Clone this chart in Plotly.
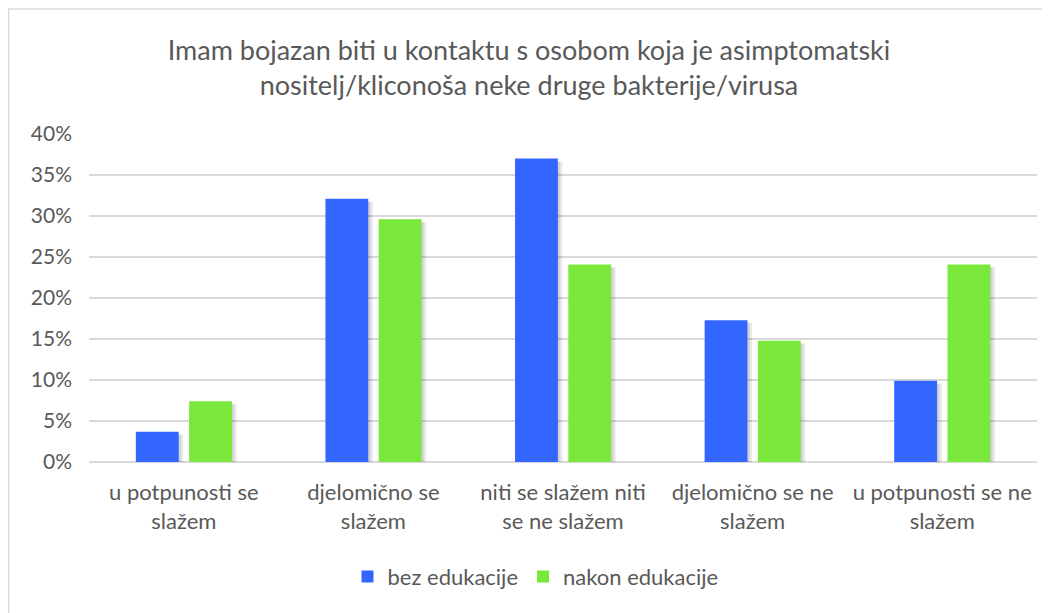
import plotly.graph_objects as go

categories = [
    "u potpunosti se<br>slažem",
    "djelomično se<br>slažem",
    "niti se slažem niti<br>se ne slažem",
    "djelomično se ne<br>slažem",
    "u potpunosti se ne<br>slažem",
]
bez_edukacije = [3.7, 32.1, 37.0, 17.3, 9.9]
nakon_edukacije = [7.4, 29.6, 24.1, 14.8, 24.1]
series_names = ["bez edukacije", "nakon edukacije"]
title_text = ("Imam bojazan biti u kontaktu s osobom koja je asimptomatski<br>"
              "nositelj/kliconoša neke druge bakterije/virusa")

FONT = "Lato"
GREY = "#595959"
COLORS = ["#3366FF", "#7AE83A"]
BAR_W = 0.226
OFFSETS = [-0.253, 0.028]
SHADOW_DX = [0.012, 0.024]

fig = go.Figure()
# soft drop shadows
for vals, off in zip([bez_edukacije, nakon_edukacije], OFFSETS):
    for dx in SHADOW_DX:
        fig.add_trace(go.Bar(x=categories, y=vals, base=-0.35, width=BAR_W, offset=off + dx,
                             marker=dict(color="rgba(0,0,0,0.09)", line=dict(width=0)),
                             showlegend=False, hoverinfo="skip", cliponaxis=False))
for vals, name, col, off in zip([bez_edukacije, nakon_edukacije], series_names, COLORS, OFFSETS):
    fig.add_trace(go.Bar(x=categories, y=vals, name=name, width=BAR_W, offset=off,
                         marker=dict(color=col, line=dict(width=0))))

fig.update_layout(
    width=1042, height=605,
    margin=dict(l=81, r=13, t=126, b=151),
    paper_bgcolor="white", plot_bgcolor="white",
    barmode="overlay",
    font=dict(family=FONT, color=GREY, size=22),
    title=dict(text=title_text, x=0.5, xanchor="center", y=0.914, yanchor="middle",
               font=dict(family=FONT, size=27, color=GREY)),
    legend=dict(orientation="h", x=0.471, xanchor="center", y=-0.35, yanchor="middle",
                font=dict(size=22, color=GREY), itemwidth=30, traceorder="normal"),
    xaxis=dict(showgrid=False, showline=False, ticks="", ticklabelstandoff=15,
               tickfont=dict(size=22, color=GREY)),
    yaxis=dict(range=[0, 40], dtick=5, ticksuffix="%", showgrid=True, gridcolor="#D9D9D9",
               gridwidth=1.5, zeroline=True, zerolinecolor="#D9D9D9", zerolinewidth=1.5,
               showline=False, ticks="", ticklabelstandoff=16,
               tickfont=dict(size=21, color=GREY)),
    shapes=[dict(type="rect", xref="paper", yref="paper", x0=-0.0849, x1=1.05,
                 y0=-0.6, y1=1.381, line=dict(color="#D9D9D9", width=1.5), layer="below")],
)

fig.write_html("out.html")
